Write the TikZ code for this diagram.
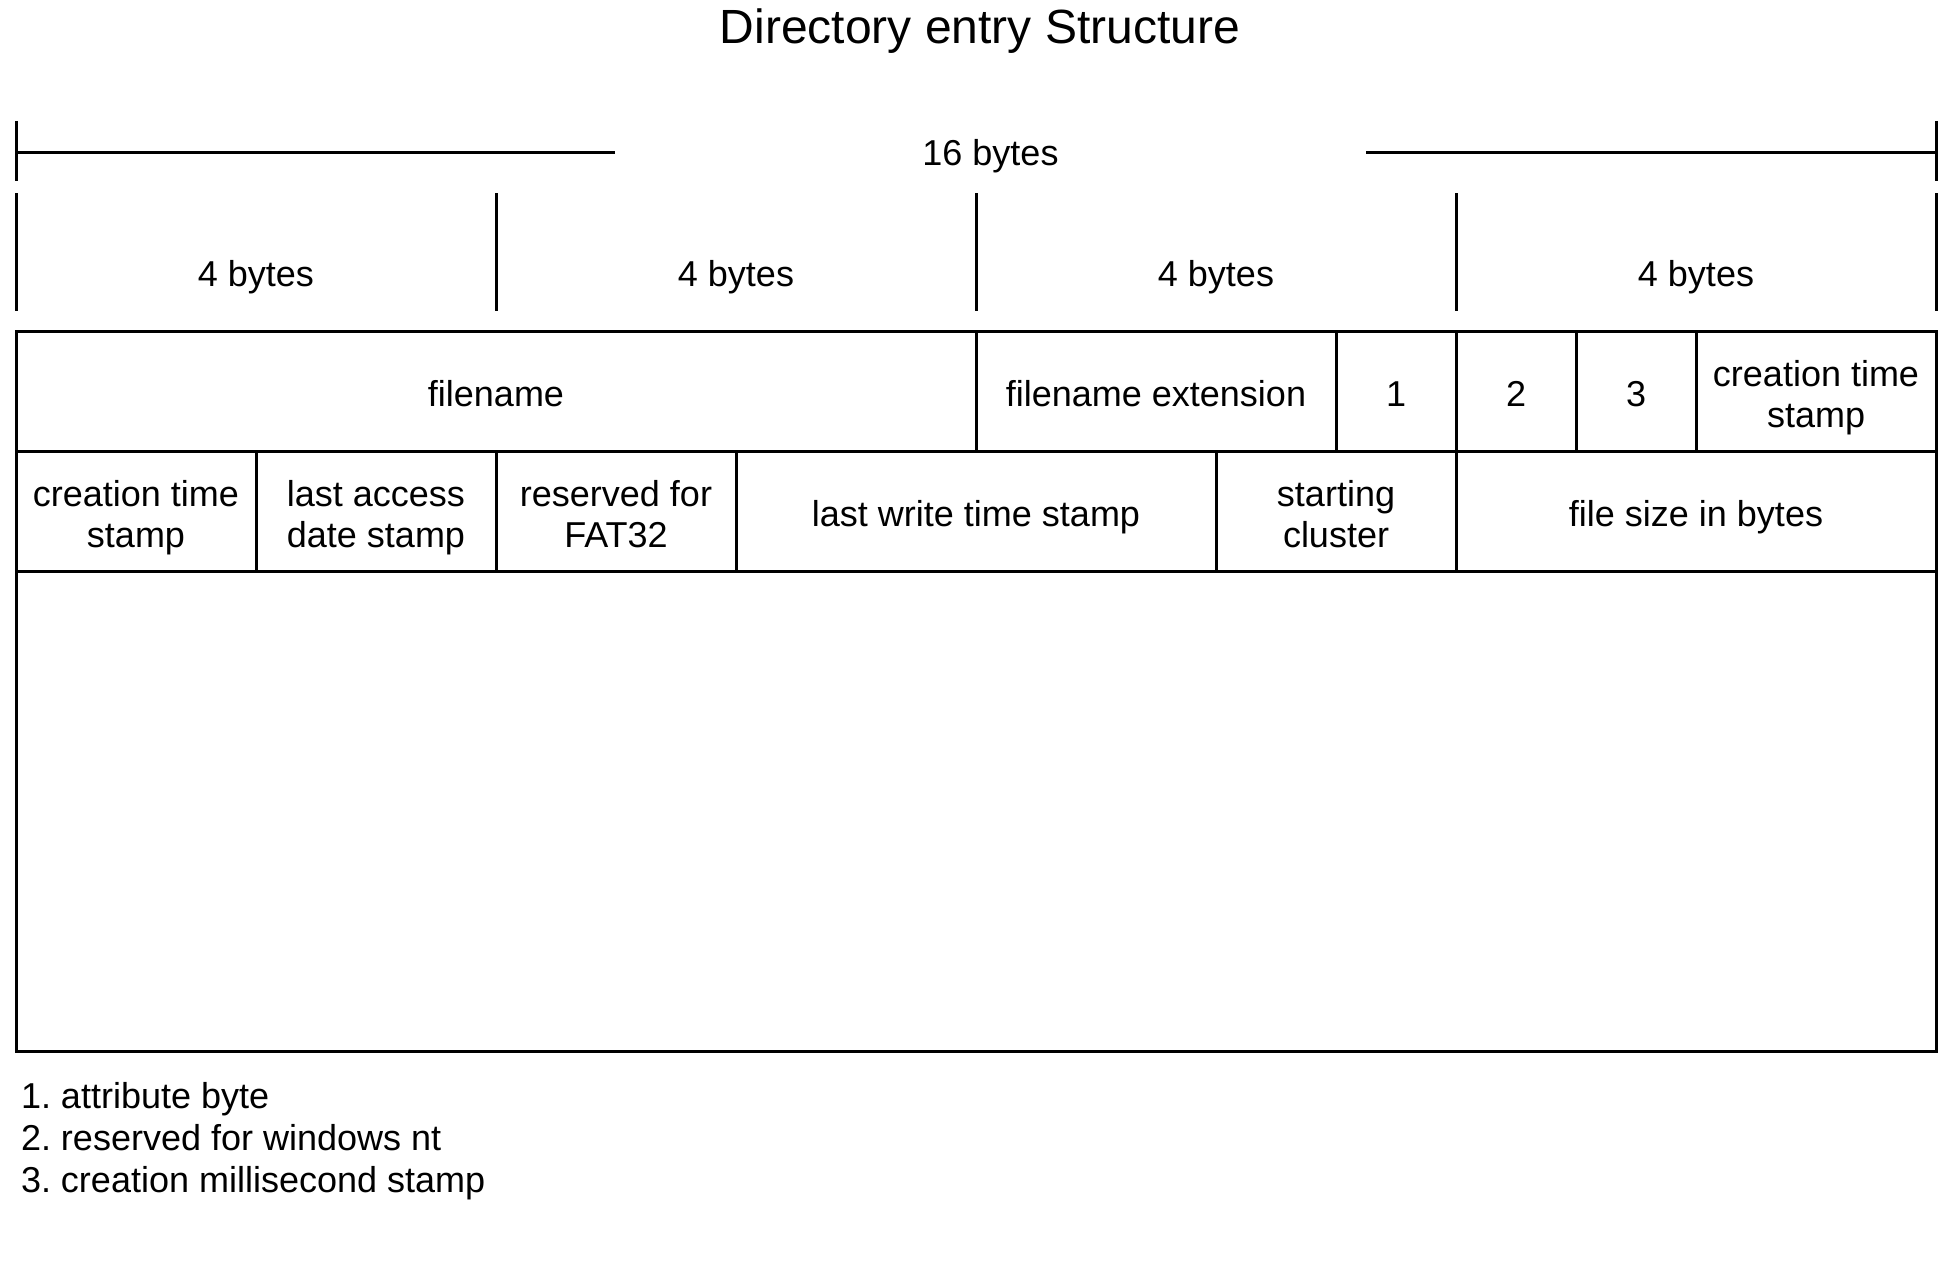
\documentclass[tikz,border=0pt]{standalone}
\usepackage{fontspec}
\setmainfont{Liberation Sans}
\frenchspacing
\begin{document}
\begin{tikzpicture}[x=0.5pt,y=-0.5pt,
  every node/.style={inner sep=0pt, outer sep=0pt},
  lbl/.style={font=\fontsize{18}{20.5}\selectfont, align=center},
  cell/.style={draw, line width=1.5pt, anchor=north west, minimum height=60pt,
     label={[lbl, yshift=-3.8pt]center:#1}},
  rule/.style={line width=1.5pt}]
\useasboundingbox (0,0) rectangle (1953,1263);
% title
\node[font=\fontsize{24}{28}\selectfont] (title) at (980,31) {Directory entry Structure};
% 16 bytes dimension
\coordinate (t16a) at (16,121); \coordinate (t16b) at (16,181);
\coordinate (t16c) at (1936,121); \coordinate (t16d) at (1936,181);
\coordinate (t16L) at (16,152); \coordinate (t16R) at (1936,152);
\node[lbl, minimum width=375.5pt, minimum height=20pt] (b16) at (990.5,152) {};
\node[lbl] (b16t) at (990.5,156) {16 bytes};
\draw[rule] (t16a) -- (t16b);
\draw[rule] (t16c) -- (t16d);
\draw[rule] (t16L) -- (b16.west);
\draw[rule] (b16.east) -- (t16R);
% 4 bytes ticks
\foreach \i/\x in {0/16,1/496,2/976,3/1456,4/1936}{
  \coordinate (q\i a) at (\x,193); \coordinate (q\i b) at (\x,311);
  \draw[rule] (q\i a) -- (q\i b);
}
\node[lbl] (f1) at (256,277) {4 bytes};
\node[lbl] (f2) at (736,277) {4 bytes};
\node[lbl] (f3) at (1216,277) {4 bytes};
\node[lbl] (f4) at (1696,277) {4 bytes};
% bottom empty box
\node[draw, line width=1.5pt, anchor=north west, minimum width=960pt, minimum height=240pt] (rest) at (16,571) {};
% row 1
\node[cell={\strut filename}, minimum width=480pt] (fn) at (16,331) {};
\node[cell={\strut filename extension}, minimum width=180pt] (ext) at (976,331) {};
\node[cell={\strut 1}, minimum width=60pt] (a1) at (1336,331) {};
\node[cell={\strut 2}, minimum width=60pt] (a2) at (1456,331) {};
\node[cell={\strut 3}, minimum width=60pt] (a3) at (1576,331) {};
\node[cell={\strut creation time\\\strut stamp}, minimum width=120pt] (cts1) at (1696,331) {};
% row 2
\node[cell={\strut creation time\\\strut stamp}, minimum width=120pt] (cts2) at (16,451) {};
\node[cell={\strut last access\\\strut date stamp}, minimum width=120pt] (lads) at (256,451) {};
\node[cell={\strut reserved for\\\strut FAT32}, minimum width=120pt] (rf) at (496,451) {};
\node[cell={\strut last write time stamp}, minimum width=240pt] (lwts) at (736,451) {};
\node[cell={\strut starting\\\strut cluster}, minimum width=120pt] (sc) at (1216,451) {};
\node[cell={\strut file size in bytes}, minimum width=240pt] (fs) at (1456,451) {};
% footnotes
\node[anchor=west, align=left, font=\fontsize{18}{21}\selectfont] (notes) at (21,1141)
  {1. attribute byte\\2. reserved for windows nt\\3. creation millisecond stamp};
\end{tikzpicture}
\end{document}
